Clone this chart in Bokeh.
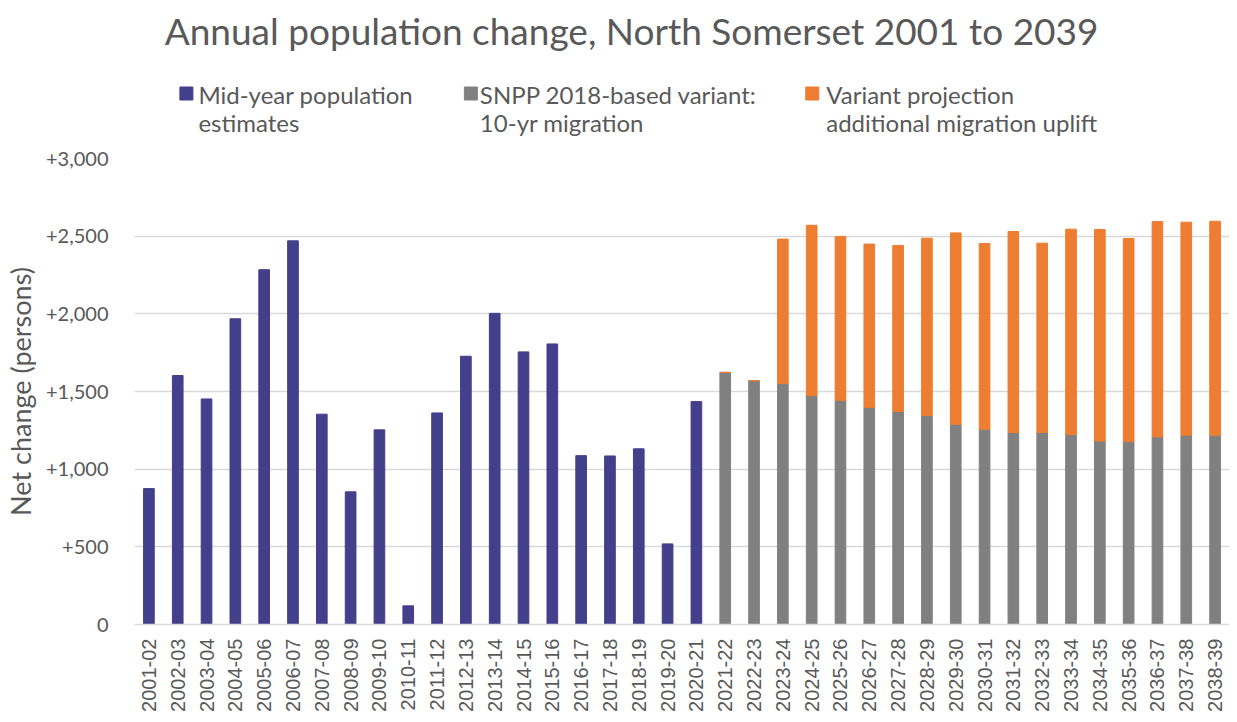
from bokeh.plotting import figure
from bokeh.models import ColumnDataSource, Range1d, FixedTicker
from bokeh.layouts import column
from bokeh.embed import file_html
from bokeh.resources import INLINE
from bokeh.core.properties import value
from math import pi

# ---------------- data ----------------
periods = ["2001-02", "2002-03", "2003-04", "2004-05", "2005-06", "2006-07", "2007-08",
           "2008-09", "2009-10", "2010-11", "2011-12", "2012-13", "2013-14", "2014-15",
           "2015-16", "2016-17", "2017-18", "2018-19", "2019-20", "2020-21", "2021-22",
           "2022-23", "2023-24", "2024-25", "2025-26", "2026-27", "2027-28", "2028-29",
           "2029-30", "2030-31", "2031-32", "2032-33", "2033-34", "2034-35", "2035-36",
           "2036-37", "2037-38", "2038-39"]

# Mid-year population estimates, 2001-02 .. 2020-21
mye = [875, 1603, 1452, 1968, 2284, 2470, 1354, 854, 1253, 120,
       1362, 1727, 2003, 1755, 1806, 1087, 1085, 1131, 519, 1435]

# SNPP 2018-based variant: 10-yr migration, 2021-22 .. 2038-39
snpp = [1623, 1570, 1551, 1474, 1443, 1398, 1372, 1345, 1289, 1257,
        1236, 1236, 1223, 1181, 1177, 1208, 1219, 1219]

# Variant projection additional migration uplift, 2021-22 .. 2038-39
uplift = [0, 0, 930, 1096, 1055, 1051, 1068, 1142, 1232, 1196,
          1294, 1219, 1322, 1362, 1308, 1386, 1371, 1377]

y_ticks = [0, 500, 1000, 1500, 2000, 2500, 3000]
y_tick_labels = ["0", "+500", "+1,000", "+1,500", "+2,000", "+2,500", "+3,000"]

legend_line1 = ["Mid-year population", "SNPP 2018-based variant:", "Variant projection"]
legend_line2 = ["estimates", "10-yr migration", "additional migration uplift"]

title_text = "Annual population change, North Somerset 2001 to 2039"

# ---------------- style ----------------
C_MYE = "#433f8b"
C_SNPP = "#808080"
C_UP = "#ed7d31"
TXT = "#595959"
GRID = "#d9d9d9"
W = 1229
HEAD_H = 144
FRAME_LEFT = 132

# ---------------- header (title + legend) ----------------
# the column aligns this frame with the chart's frame, so the x range starts at FRAME_LEFT
head = figure(width=W, height=HEAD_H, output_backend="svg", toolbar_location=None,
              x_range=Range1d(FRAME_LEFT, W), y_range=Range1d(HEAD_H, 0),
              x_axis_location=None, y_axis_location=None,
              min_border_left=FRAME_LEFT, min_border_right=0, min_border_top=0,
              min_border_bottom=0)
head.grid.visible = False
head.outline_line_color = None

head.text(x=[630], y=[30], text=[title_text], text_font=value("Lato"),
          text_font_size="37px", text_color=TXT, text_align="center",
          text_baseline="alphabetic")

leg_sq_x = [184, 469, 811]
leg_txt_x = [196, 478, 825]
leg_src = ColumnDataSource(dict(sx=leg_sq_x, tx=leg_txt_x,
                                c=[C_MYE, C_SNPP, C_UP],
                                l1=legend_line1, l2=legend_line2))
head.scatter(x="sx", y=93, marker="square", size=13, color="c", source=leg_src)
head.text(x="tx", y=94, text="l1", text_font=value("Lato"), text_font_size="24px",
          text_color=TXT, text_baseline="alphabetic", source=leg_src)
head.text(x="tx", y=122, text="l2", text_font=value("Lato"), text_font_size="24px",
          text_color=TXT, text_baseline="alphabetic", source=leg_src)

# ---------------- chart ----------------
n_mye = len(mye)
src_mye = ColumnDataSource(dict(x=list(range(n_mye)), y=mye))
src_proj = ColumnDataSource(dict(x=list(range(n_mye, n_mye + len(snpp))),
                                 snpp=snpp, uplift=uplift))

p = figure(width=W, height=714 - HEAD_H, output_backend="svg", toolbar_location=None,
           x_range=Range1d(-0.5, 37.5), y_range=Range1d(0, 3000),
           min_border_left=FRAME_LEFT, min_border_right=0, min_border_top=14,
           min_border_bottom=87)

p.vbar(x="x", top="y", width=0.37, source=src_mye, color=C_MYE)
p.vbar_stack(["snpp", "uplift"], x="x", width=0.37, source=src_proj,
             color=[C_SNPP, C_UP])

p.outline_line_color = None
p.xgrid.grid_line_color = None
p.ygrid.grid_line_color = GRID
p.ygrid.grid_line_width = 1.5

p.yaxis.ticker = FixedTicker(ticks=y_ticks)
p.yaxis.major_label_overrides = {t: l for t, l in zip(y_ticks, y_tick_labels)}
p.yaxis.axis_line_color = None
p.yaxis.major_tick_line_color = None
p.yaxis.minor_tick_line_color = None
p.yaxis.major_label_text_font = "Lato"
p.yaxis.major_label_text_font_size = "20px"
p.yaxis.major_label_text_color = TXT
p.yaxis.major_label_standoff = 20
p.yaxis.axis_label = "Net change (persons)"
p.yaxis.axis_label_text_font = "Lato"
p.yaxis.axis_label_text_font_size = "27px"
p.yaxis.axis_label_text_font_style = "normal"
p.yaxis.axis_label_text_color = TXT
p.yaxis.axis_label_standoff = 6

p.xaxis.ticker = FixedTicker(ticks=list(range(len(periods))))
p.xaxis.major_label_overrides = {i: s for i, s in enumerate(periods)}
p.xaxis.major_label_orientation = pi / 2
p.xaxis.axis_line_color = GRID
p.xaxis.axis_line_width = 1.5
p.xaxis.major_tick_line_color = None
p.xaxis.minor_tick_line_color = None
p.xaxis.major_label_text_font = "Liberation Sans"
p.xaxis.major_label_text_font_size = "20px"
p.xaxis.major_label_text_color = TXT
p.xaxis.major_label_standoff = 8

layout = column(head, p, spacing=0)
open("out.html", "w").write(file_html(layout, INLINE))
